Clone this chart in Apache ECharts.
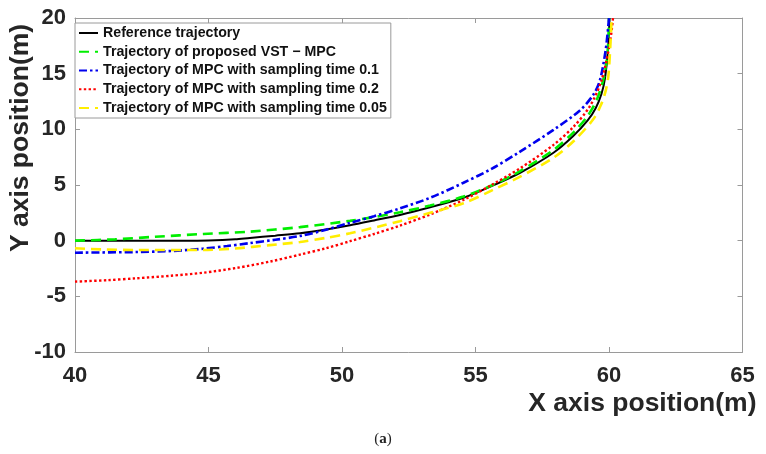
<!DOCTYPE html>
<html>
<head>
<meta charset="utf-8">
<script src="https://cdn.jsdelivr.net/npm/echarts@6/dist/echarts.min.js"></script>
<style>
  html, body { margin: 0; padding: 0; background: #fff; }
  #main { width: 766px; height: 454px; }
</style>
</head>
<body>
<div id="main"></div>
<script>
// trajectory points, [x(m), y(m)]
const seriesNames = [
    'Reference trajectory',
    'Trajectory of proposed VST \u2212 MPC',
    'Trajectory of MPC with sampling time 0.1',
    'Trajectory of MPC with sampling time 0.2',
    'Trajectory of MPC with sampling time 0.05'
];
const refPts = [[40, 0], [42, 0], [44, 0], [45, 0.02], [46, 0.12], [46.55, 0.25], [47.5, 0.45], [48.43, 0.66],
    [49.4, 1.0], [50.3, 1.38], [51.2, 1.82], [52.17, 2.31], [53.3, 3.0], [54.55, 3.85], [55.6, 4.9], [56.67, 6.1],
    [57.92, 7.9], [58.66, 9.4], [59.2, 10.8], [59.5, 11.9], [59.72, 13.2], [59.85, 14.6], [59.97, 17.4], [60.02, 20]];
const vstPts = [[40, 0], [41.5, 0.12], [43, 0.35], [44.8, 0.6], [46.55, 0.81], [48.43, 1.22], [50.3, 1.78],
    [51.2, 2.12], [52.17, 2.55], [53.3, 3.15], [54.55, 3.96], [55.6, 4.95], [56.67, 6.25], [57.92, 8.15],
    [58.7, 9.8], [59.2, 11.2], [59.55, 12.7], [59.8, 14.6], [59.95, 17], [60, 20]];
const mpc01Pts = [[40, -1.08], [42.3, -1.02], [43.6, -0.93], [44.8, -0.72], [45.7, -0.48], [46.55, -0.22],
    [47.5, 0.08], [48.43, 0.42], [49.4, 0.98], [50.3, 1.6], [51.2, 2.2], [52.17, 2.9], [53.3, 3.85], [54.55, 5.2],
    [55.6, 6.45], [56.67, 8.0], [57.92, 9.95], [58.91, 11.7], [59.41, 13.1], [59.66, 14.4], [59.88, 17.2], [60, 20]];
const mpc02Pts = [[40, -3.68], [41.2, -3.55], [42.3, -3.38], [43.6, -3.15], [44.8, -2.88], [46.05, -2.45],
    [47.3, -1.88], [48.43, -1.25], [49.4, -0.68], [50.3, -0.05], [51.2, 0.6], [52.17, 1.35], [53.3, 2.35],
    [54.55, 3.66], [55.6, 5.0], [56.67, 6.5], [57.92, 8.6], [58.66, 10.2], [59.29, 12.1], [59.72, 14.4],
    [60.03, 17.7], [60.15, 20]];
const mpc005Pts = [[40, -0.68], [41, -0.78], [42.3, -0.84], [44.8, -0.84], [46, -0.7], [47.3, -0.4],
    [48.43, -0.12], [49.4, 0.25], [50.3, 0.66], [51.6, 1.4], [52.17, 1.75], [53.3, 2.5], [54.55, 3.36],
    [55.6, 4.5], [56.67, 5.75], [57.92, 7.45], [58.7, 9.0], [59.41, 10.9], [59.7, 12.2], [59.88, 13.5],
    [59.98, 14.9], [60.05, 17.5], [60.1, 20]];
const xTicks = [40, 45, 50, 55, 60, 65];
const yTicks = [-10, -5, 0, 5, 10, 15, 20];

const boxColor = '#9a9a9a';
const labelFont = { color: '#262626', fontWeight: 'bold', fontSize: 22, fontFamily: 'Liberation Sans' };

function makeX(pos, showLabel) {
    return {
        type: 'value', position: pos, min: xTicks[0], max: xTicks[xTicks.length - 1], interval: 5,
        axisLine: { show: true, onZero: false, lineStyle: { color: boxColor, width: 1 } },
        axisTick: { show: true, inside: true, length: 5, lineStyle: { color: boxColor } },
        splitLine: { show: false },
        axisLabel: Object.assign({ show: showLabel, margin: 13 }, labelFont)
    };
}
function makeY(pos, showLabel) {
    return {
        type: 'value', position: pos, min: yTicks[0], max: yTicks[yTicks.length - 1], interval: 5,
        axisLine: { show: true, onZero: false, lineStyle: { color: boxColor, width: 1 } },
        axisTick: { show: true, inside: true, length: 5, lineStyle: { color: boxColor } },
        splitLine: { show: false },
        axisLabel: Object.assign({ show: showLabel, margin: 9 }, labelFont)
    };
}

const xBottom = makeX('bottom', true);
xBottom.name = 'X axis position(m)';
xBottom.nameLocation = 'end';
xBottom.nameGap = 14;
xBottom.nameTextStyle = { color: '#262626', fontWeight: 'bold', fontSize: 26.5, fontFamily: 'Liberation Sans',
    align: 'right', verticalAlign: 'top', padding: [38, 0, 0, 0] };
const yLeft = makeY('left', true);
yLeft.name = 'Y axis position(m)';
yLeft.nameLocation = 'middle';
yLeft.nameMoveOverlap = false;
yLeft.nameGap = 41;
yLeft.nameTextStyle = { color: '#262626', fontWeight: 'bold', fontSize: 26.5, fontFamily: 'Liberation Sans',
    padding: [0, 0, 0, 94] };

const myChart = echarts.init(document.getElementById('main'));
myChart.setOption({
    animation: false,
    backgroundColor: '#fff',
    title: {
        text: '({b|a})', left: 'center', top: 427,
        textStyle: {
            fontFamily: 'Liberation Serif', fontWeight: 'normal', fontSize: 15, color: '#222',
            rich: { b: { fontFamily: 'Liberation Serif', fontWeight: 'bold', fontSize: 15, color: '#222' } }
        }
    },
    grid: { left: 75, right: 23.5, top: 18, bottom: 102, containLabel: false, outerBoundsMode: 'none' },
    legend: {
        orient: 'vertical', left: 75, top: 23,
        itemWidth: 19, itemHeight: 14, itemGap: 4.75,
        padding: [3, 4, 3, 3],
        borderColor: boxColor, borderWidth: 1, backgroundColor: '#fff',
        itemStyle: { opacity: 0 },
        textStyle: { color: '#111', fontWeight: 'bold', fontSize: 14.2, fontFamily: 'Liberation Sans', lineHeight: 14 },
        data: seriesNames
    },
    xAxis: [xBottom, makeX('top', false)],
    yAxis: [yLeft, makeY('right', false)],
    series: [
        { name: seriesNames[0], type: 'line', data: refPts, symbol: 'none', smooth: 0.3,
          lineStyle: { color: '#000000', width: 2, type: 'solid' }, itemStyle: { color: '#000000' } },
        { name: seriesNames[1], type: 'line', data: vstPts, symbol: 'none', smooth: 0.3,
          lineStyle: { color: '#00ee00', width: 2.6, type: [10, 6] }, itemStyle: { color: '#00ee00' } },
        { name: seriesNames[2], type: 'line', data: mpc01Pts, symbol: 'none', smooth: 0.3,
          lineStyle: { color: '#0000ee', width: 2.6, type: [8, 3, 2.5, 3] }, itemStyle: { color: '#0000ee' } },
        { name: seriesNames[3], type: 'line', data: mpc02Pts, symbol: 'none', smooth: 0.3,
          lineStyle: { color: '#ff0000', width: 2.4, type: [2.4, 2.4] }, itemStyle: { color: '#ff0000' } },
        { name: seriesNames[4], type: 'line', data: mpc005Pts, symbol: 'none', smooth: 0.3,
          lineStyle: { color: '#ffee00', width: 2.6, type: [10, 6] }, itemStyle: { color: '#ffee00' } }
    ]
});
</script>
</body>
</html>
